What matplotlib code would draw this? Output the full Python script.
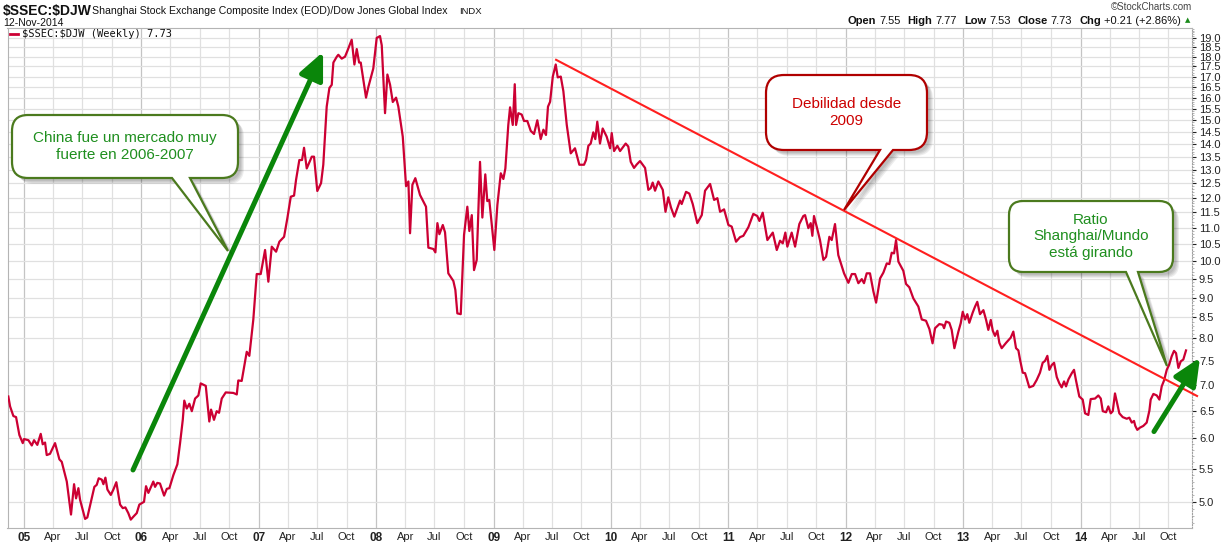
import numpy as np
import matplotlib
matplotlib.use("Agg")
import matplotlib.pyplot as plt
from matplotlib.path import Path
from matplotlib.patches import PathPatch
from matplotlib.lines import Line2D
from matplotlib.transforms import IdentityTransform
from matplotlib.ticker import FixedLocator, FixedFormatter, NullFormatter, FormatStrFormatter

plt.rcParams['font.family'] = ['Liberation Sans', 'DejaVu Sans']

# weekly ratio $SSEC:$DJW (decimal years)
dates = [
    2004.866, 2004.881, 2004.909, 2004.932, 2004.960, 2004.989, 2005.000, 2005.037,
    2005.066, 2005.085, 2005.113, 2005.142, 2005.159, 2005.179, 2005.193, 2005.221,
    2005.264, 2005.301, 2005.321, 2005.364, 2005.400, 2005.426, 2005.443, 2005.463,
    2005.477, 2005.520, 2005.539, 2005.599, 2005.619, 2005.636, 2005.662, 2005.676,
    2005.693, 2005.710, 2005.739, 2005.761, 2005.786, 2005.818, 2005.841, 2005.863,
    2005.888, 2005.909, 2005.931, 2005.960, 2005.982, 2006.022, 2006.039, 2006.059,
    2006.101, 2006.116, 2006.135, 2006.158, 2006.193, 2006.216, 2006.238, 2006.272,
    2006.306, 2006.329, 2006.352, 2006.365, 2006.386, 2006.408, 2006.429, 2006.457,
    2006.485, 2006.505, 2006.548, 2006.578, 2006.593, 2006.618, 2006.641, 2006.661,
    2006.684, 2006.718, 2006.783, 2006.812, 2006.825, 2006.854, 2006.897, 2006.919,
    2006.953, 2006.982, 2007.016, 2007.053, 2007.081, 2007.110, 2007.147, 2007.175,
    2007.215, 2007.243, 2007.272, 2007.300, 2007.317, 2007.345, 2007.368, 2007.385,
    2007.408, 2007.451, 2007.470, 2007.498, 2007.530, 2007.549, 2007.578, 2007.601,
    2007.621, 2007.635, 2007.664, 2007.677, 2007.706, 2007.734, 2007.754, 2007.791,
    2007.814, 2007.834, 2007.854, 2007.868, 2007.913, 2007.933, 2007.975, 2008.004,
    2008.032, 2008.047, 2008.075, 2008.095, 2008.118, 2008.141, 2008.169, 2008.188,
    2008.226, 2008.254, 2008.274, 2008.288, 2008.308, 2008.333, 2008.373, 2008.424,
    2008.444, 2008.487, 2008.504, 2008.521, 2008.538, 2008.567, 2008.586, 2008.614,
    2008.657, 2008.674, 2008.691, 2008.720, 2008.748, 2008.776, 2008.793, 2008.814,
    2008.833, 2008.856, 2008.884, 2008.904, 2008.929, 2008.946, 2008.963, 2009.006,
    2009.032, 2009.061, 2009.083, 2009.100, 2009.125, 2009.140, 2009.163, 2009.180,
    2009.191, 2009.211, 2009.239, 2009.259, 2009.287, 2009.316, 2009.344, 2009.372,
    2009.401, 2009.424, 2009.446, 2009.463, 2009.481, 2009.504, 2009.529, 2009.546,
    2009.572, 2009.594, 2009.623, 2009.657, 2009.693, 2009.730, 2009.770, 2009.787,
    2009.807, 2009.827, 2009.849, 2009.866, 2009.883, 2009.906, 2009.929, 2009.963,
    2009.992, 2010.006, 2010.026, 2010.054, 2010.077, 2010.125, 2010.147, 2010.168,
    2010.196, 2010.219, 2010.247, 2010.290, 2010.318, 2010.338, 2010.355, 2010.375,
    2010.403, 2010.441, 2010.464, 2010.488, 2010.511, 2010.539, 2010.588, 2010.602,
    2010.639, 2010.667, 2010.696, 2010.735, 2010.773, 2010.801, 2010.844, 2010.878,
    2010.906, 2010.929, 2010.963, 2011.000, 2011.028, 2011.065, 2011.099, 2011.127,
    2011.170, 2011.212, 2011.246, 2011.264, 2011.292, 2011.332, 2011.378, 2011.412,
    2011.440, 2011.463, 2011.485, 2011.502, 2011.539, 2011.568, 2011.604, 2011.638,
    2011.653, 2011.681, 2011.701, 2011.715, 2011.729, 2011.752, 2011.780, 2011.809,
    2011.832, 2011.860, 2011.880, 2011.908, 2011.936, 2011.985, 2012.022, 2012.051,
    2012.079, 2012.107, 2012.136, 2012.155, 2012.178, 2012.206, 2012.235, 2012.258,
    2012.292, 2012.320, 2012.349, 2012.371, 2012.391, 2012.411, 2012.428, 2012.448,
    2012.490, 2012.513, 2012.541, 2012.575, 2012.618, 2012.647, 2012.683, 2012.712,
    2012.739, 2012.760, 2012.797, 2012.826, 2012.837, 2012.854, 2012.882, 2012.902,
    2012.925, 2012.959, 2012.979, 2012.996, 2013.016, 2013.035, 2013.052, 2013.081,
    2013.101, 2013.120, 2013.143, 2013.172, 2013.195, 2013.214, 2013.235, 2013.252,
    2013.271, 2013.291, 2013.308, 2013.328, 2013.365, 2013.405, 2013.427, 2013.450,
    2013.470, 2013.484, 2013.507, 2013.527, 2013.541, 2013.563, 2013.597, 2013.626,
    2013.654, 2013.677, 2013.697, 2013.717, 2013.734, 2013.754, 2013.774, 2013.797,
    2013.819, 2013.839, 2013.859, 2013.876, 2013.896, 2013.925, 2013.944, 2013.961,
    2013.989, 2014.018, 2014.038, 2014.066, 2014.086, 2014.123, 2014.151, 2014.172,
    2014.189, 2014.217, 2014.236, 2014.257, 2014.274, 2014.293, 2014.313, 2014.330,
    2014.359, 2014.393, 2014.415, 2014.436, 2014.455, 2014.466, 2014.483, 2014.506,
    2014.534, 2014.563, 2014.586, 2014.597, 2014.620, 2014.649, 2014.671, 2014.691,
    2014.711, 2014.734, 2014.756, 2014.776, 2014.796, 2014.813, 2014.833, 2014.853,
    2014.875, 2014.898,
]
ratio = [
    6.77, 6.58, 6.40, 6.38, 6.06, 5.92, 5.99, 5.97,
    5.88, 5.97, 5.89, 6.08, 5.90, 5.93, 5.72, 5.74,
    5.92, 5.65, 5.61, 5.30, 4.82, 5.26, 5.05, 5.20,
    5.03, 4.76, 4.78, 5.22, 5.25, 5.35, 5.33, 5.26,
    5.36, 5.18, 5.10, 5.18, 5.29, 4.96, 4.91, 4.92,
    4.84, 4.75, 4.79, 4.84, 4.96, 5.00, 5.23, 5.13,
    5.30, 5.22, 5.28, 5.27, 5.09, 5.19, 5.20, 5.40,
    5.57, 5.92, 6.33, 6.69, 6.54, 6.63, 6.49, 6.73,
    6.79, 7.03, 6.98, 6.30, 6.52, 6.33, 6.49, 6.46,
    6.73, 6.85, 6.84, 6.81, 7.09, 7.08, 7.70, 7.61,
    8.45, 9.63, 9.63, 10.32, 9.42, 10.42, 10.27, 10.57,
    10.72, 11.31, 12.03, 12.07, 12.63, 13.37, 13.37, 13.85,
    13.05, 13.50, 13.50, 12.23, 12.51, 13.19, 15.59, 16.45,
    16.60, 17.70, 18.00, 18.10, 17.90, 18.00, 18.30, 18.90,
    17.60, 18.40, 17.70, 17.70, 16.00, 16.50, 17.40, 19.00,
    19.10, 18.60, 15.30, 17.10, 16.60, 15.80, 16.00, 15.60,
    14.30, 12.40, 12.57, 10.83, 12.45, 12.69, 12.09, 11.69,
    10.39, 10.35, 10.25, 11.15, 10.80, 11.09, 10.86, 9.65,
    9.44, 9.20, 8.60, 8.58, 10.78, 11.69, 10.90, 11.41,
    9.74, 10.03, 13.30, 11.33, 12.83, 11.88, 11.92, 10.32,
    11.75, 12.87, 12.66, 13.05, 14.79, 15.56, 14.79, 16.63,
    14.79, 15.30, 15.24, 14.96, 14.96, 14.54, 14.41, 14.99,
    14.20, 14.59, 14.37, 15.59, 15.81, 17.00, 17.60, 16.96,
    17.00, 16.30, 14.79, 13.63, 13.83, 13.19, 13.19, 13.37,
    13.93, 14.02, 14.48, 14.20, 14.93, 14.02, 14.64, 14.30,
    13.83, 14.45, 13.72, 13.93, 13.72, 14.02, 13.90, 13.30,
    13.07, 13.20, 13.33, 13.07, 12.27, 12.33, 12.53, 12.24,
    12.57, 12.27, 11.52, 12.01, 11.66, 11.36, 11.90, 11.78,
    12.20, 12.14, 11.78, 11.15, 11.41, 12.24, 12.48, 11.92,
    11.98, 11.52, 11.60, 11.09, 11.04, 10.57, 10.71, 10.75,
    11.02, 11.45, 11.38, 11.22, 11.49, 10.62, 10.85, 10.32,
    10.60, 10.52, 10.85, 10.42, 10.85, 10.42, 11.12, 11.38,
    11.41, 10.99, 11.15, 10.75, 11.38, 11.04, 10.62, 10.03,
    10.12, 10.72, 10.62, 11.12, 10.17, 9.65, 9.39, 9.63,
    9.63, 9.38, 9.49, 9.38, 9.65, 9.65, 9.16, 8.87,
    9.51, 9.67, 9.93, 9.91, 10.24, 10.22, 10.62, 9.98,
    9.72, 9.36, 9.27, 8.98, 8.77, 8.45, 8.42, 8.22,
    7.89, 8.24, 8.34, 8.32, 8.24, 8.40, 8.37, 8.20,
    7.78, 8.16, 8.36, 8.64, 8.45, 8.58, 8.37, 8.62,
    8.77, 8.89, 8.58, 8.68, 8.44, 8.20, 8.44, 8.18,
    8.06, 8.18, 7.90, 7.78, 7.90, 8.02, 8.16, 7.78,
    7.73, 7.53, 7.25, 7.24, 7.13, 6.95, 6.98, 7.10,
    7.25, 7.46, 7.50, 7.61, 7.31, 7.41, 7.46, 7.16,
    7.03, 6.95, 7.07, 6.97, 7.11, 7.24, 7.31, 7.09,
    6.77, 6.71, 6.45, 6.42, 6.72, 6.73, 6.79, 6.73,
    6.49, 6.47, 6.58, 6.45, 6.49, 6.83, 6.62, 6.45,
    6.38, 6.35, 6.37, 6.28, 6.31, 6.22, 6.15, 6.19,
    6.22, 6.28, 6.50, 6.71, 6.82, 6.79, 6.71, 6.97,
    7.09, 7.31, 7.43, 7.60, 7.72, 7.67, 7.35, 7.49,
    7.53, 7.73,
]
assert len(dates) == len(ratio)

years = list(range(2005, 2015))
year_labels = ['05', '06', '07', '08', '09', '10', '11', '12', '13', '14']
month_offsets = [0.247, 0.496, 0.748]
month_labels = ['Apr', 'Jul', 'Oct']
y_ticks = list(np.arange(5.0, 19.01, 0.5))

# drawn annotations (start, end) in (date, ratio)
trend_line = [(2009.532, 17.84), (2014.992, 6.78)]
arrow_up_2006 = [(2005.928, 5.48), (2007.547, 18.25)]
arrow_up_2014 = [(2014.625, 6.12), (2015.017, 7.57)]

W, H = 1225, 550
fig = plt.figure(figsize=(W / 100, H / 100), dpi=100)
ax = fig.add_axes([7.5 / W, 22 / H, 1184.5 / W, 500 / H])

ax.set_yscale('log')
ax.plot(dates, ratio, color='#cc0033', lw=1.6, zorder=3, solid_joinstyle='round')
ax.set_xlim(2004.859, 2014.949)
ax.set_ylim(4.637, 19.55)

# x axis: years major (bold), quarters minor
ax.xaxis.set_major_locator(FixedLocator(years))
ax.xaxis.set_major_formatter(FixedFormatter(year_labels))
minor_pos = [y + m for y in years for m in month_offsets]
minor_lab = [m for y in years for m in month_labels]
ax.xaxis.set_minor_locator(FixedLocator(minor_pos))
ax.xaxis.set_minor_formatter(FixedFormatter(minor_lab))
ax.tick_params(axis='x', which='both', length=0, pad=3, labelsize=8, colors='#222222')
for lbl in ax.get_xticklabels():
    lbl.set_fontweight('bold')
    lbl.set_fontsize(8.5)

# y axis on the right
ax.yaxis.tick_right()
ax.yaxis.set_major_locator(FixedLocator(y_ticks))
ax.yaxis.set_major_formatter(FormatStrFormatter('%.1f'))
ax.yaxis.set_minor_locator(FixedLocator(list(np.arange(4.7, 19.55, 0.1))))
ax.yaxis.set_minor_formatter(NullFormatter())
ax.tick_params(axis='y', which='major', length=3, width=0.8, pad=2, labelsize=8,
               colors='#222222')
ax.tick_params(axis='y', which='minor', length=1.5, width=0.6, color='#aaaaaa')

ax.xaxis.grid(True, which='major', color='#c4c4c4', lw=0.9)
ax.xaxis.grid(True, which='minor', color='#e0e0e0', lw=0.9)
ax.yaxis.grid(True, which='major', color='#e0e0e0', lw=0.9)
ax.set_axisbelow(True)
for side in ['top', 'left', 'bottom']:
    ax.spines[side].set_color('#b4b4b4')
ax.spines['right'].set_color('#a0a0a0')
ax.spines['right'].set_linestyle((0, (1, 1.5)))

# trend line and arrows
(tx0, ty0), (tx1, ty1) = trend_line
ax.plot([tx0, tx1], [ty0, ty1], color='#ff1f1f', lw=1.5, zorder=4, clip_on=False)
for (x0, y0), (x1, y1) in [arrow_up_2006, arrow_up_2014]:
    ax.annotate('', xy=(x1, y1), xytext=(x0, y0), annotation_clip=False, zorder=5,
                arrowprops=dict(arrowstyle='-|>,head_length=1.1,head_width=0.5',
                                mutation_scale=15, lw=3.6, color='#0a860a',
                                shrinkA=0, shrinkB=0))


# callout bubbles (image pixel coords, y down)
def bubble(x0, y0, x1, y1, base, tip, edge, label, tcolor, r=14, ls=1.2):
    pts = [(x0 + r, y0), (x1 - r, y0), (x1, y0), (x1, y0 + r), (x1, y1 - r), (x1, y1),
           (x1 - r, y1), (base[1], y1), tip, (base[0], y1), (x0 + r, y1), (x0, y1),
           (x0, y1 - r), (x0, y0 + r), (x0, y0), (x0 + r, y0), (x0 + r, y0)]
    codes = [Path.MOVETO, Path.LINETO, Path.CURVE3, Path.CURVE3, Path.LINETO, Path.CURVE3,
             Path.CURVE3, Path.LINETO, Path.LINETO, Path.LINETO, Path.LINETO, Path.CURVE3,
             Path.CURVE3, Path.LINETO, Path.CURVE3, Path.CURVE3, Path.CLOSEPOLY]
    for off in [6, 5, 4, 3]:
        verts = [(x + off, H - (y + off)) for x, y in pts]
        fig.add_artist(PathPatch(Path(verts, codes), transform=IdentityTransform(),
                                 facecolor='#000000', edgecolor='none', alpha=0.07, zorder=6))
    verts = [(x, H - y) for x, y in pts]
    fig.add_artist(PathPatch(Path(verts, codes), transform=IdentityTransform(),
                             facecolor='white', edgecolor=edge, lw=1.6, zorder=7))
    fig.text((x0 + x1) / 2 / W, 1 - ((y0 + y1) / 2) / H, label, ha='center', va='center',
             color=tcolor, fontsize=11, linespacing=ls, zorder=8)


bubble(12, 115, 238, 178, (172, 190), (228, 251), '#4b7a1e',
       'China fue un mercado muy\nfuerte en 2006-2007', '#1f8f1f', r=16, ls=1.3)
bubble(766, 75, 927, 150, (880, 893), (844, 210), '#b00000',
       'Debilidad desde\n2009', '#cc0000', r=18, ls=1.2)
bubble(1009, 201, 1173, 272, (1126, 1138), (1167, 366), '#4b7a1e',
       'Ratio\nShanghai/Mundo\nestá girando', '#1f8f1f', r=14, ls=1.2)


def ftext(x, y, s, **kw):
    return fig.text(x / W, 1 - y / H, s, va='center', **kw)


# header
ftext(3, 11, r'\$SSEC:\$DJW', fontsize=10, fontweight='bold', color='#111111')
ftext(92, 11, 'Shanghai Stock Exchange Composite Index (EOD)/Dow Jones Global Index',
      fontsize=7.6, color='#111111')
ftext(459, 11, 'INDX', fontsize=6.8, color='#111111')
ftext(3, 23, '12-Nov-2014', fontsize=7.5, color='#111111')
ftext(1192, 7, '©StockCharts.com', fontsize=7, color='#444444', ha='right')

# Open/High/Low/Close strip, right aligned
parts = [('Open', 'bold'), ('7.55', 'normal'), ('High', 'bold'), ('7.77', 'normal'),
         ('Low', 'bold'), ('7.53', 'normal'), ('Close', 'bold'), ('7.73', 'normal'),
         ('Chg', 'bold'), ('+0.21 (+2.86%)', 'normal')]
renderer = fig.canvas.get_renderer()
objs, widths = [], []
for s, w in parts:
    t = ftext(0, 21, s, fontsize=8, fontweight=w, color='#111111')
    objs.append(t)
    widths.append(t.get_window_extent(renderer).width)
gaps = [3 if i % 2 == 0 else 7 for i in range(len(parts))]
total = sum(widths) + sum(gaps[:-1])
x = 1181 - total
for t, wd, g in zip(objs, widths, gaps):
    t.set_x(x / W)
    x += wd + g
ftext(1188, 20, '▲', fontsize=5, color='#1a8a1a', ha='center', family='DejaVu Sans')

# legend
fig.add_artist(Line2D([10 / W, 18 / W], [1 - 34 / H, 1 - 34 / H], color='#cc0033', lw=2))
ftext(22, 34, r'\$SSEC:\$DJW (Weekly) 7.73', fontsize=7.5, color='#111111',
      family='DejaVu Sans Mono')

fig.savefig('out.png', dpi=100)
